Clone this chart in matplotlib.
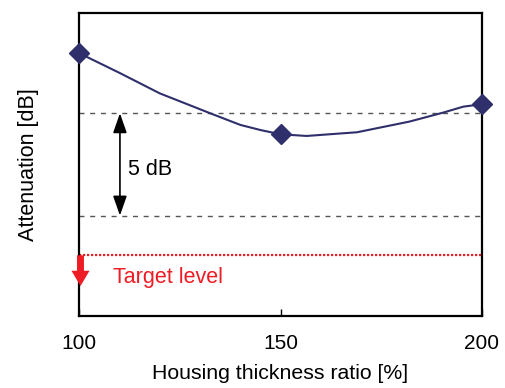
import matplotlib.pyplot as plt

plt.rcParams['font.family'] = ['Liberation Sans', 'DejaVu Sans']

# measured ratios and attenuation (dB above the plot floor)
ratio_marks = [100, 150, 200]
atten_marks = [12.82, 8.86, 10.33]

# smoothed curve through the measurements
ratio_curve = [100, 110, 120, 132.5, 140, 145, 150, 156.5, 169, 182, 190.4, 195.4, 200]
atten_curve = [12.82, 11.86, 10.86, 9.89, 9.32, 9.07, 8.86, 8.78, 8.96, 9.48, 9.92, 10.21, 10.33]

ref_upper = 9.89
ref_lower = 4.89
target = 2.95
target_arrow_end = 1.45

navy = '#2f2f6b'
red = '#ee1c24'

fig = plt.figure(figsize=(5.05, 3.88), dpi=100)
ax = fig.add_axes([0.157, 0.1863, 0.797, 0.7794])

ax.plot(ratio_curve, atten_curve, color=navy, lw=1.5, zorder=3)
ax.plot(ratio_marks, atten_marks, 'D', color=navy, ms=10, zorder=4, clip_on=False)

ax.axhline(ref_upper, color='#555555', lw=1, dashes=(3.6, 4.1))
ax.axhline(ref_lower, color='#555555', lw=1, dashes=(3.6, 4.1))
ax.axhline(target, color=red, lw=1.6, linestyle=(0, (1, 0.8)))

# 5 dB span between the two reference lines
ax.annotate('', xy=(110.1, ref_lower), xytext=(110.1, ref_upper),
            arrowprops=dict(arrowstyle='<|-|>,head_width=0.35,head_length=1.0',
                            color='black', lw=1.2, shrinkA=0, shrinkB=0,
                            mutation_scale=12))
ax.text(112.1, 7.12, '5 dB', fontsize=15.5, va='center', ha='left')

# target level marker
ax.annotate('', xy=(100.3, target_arrow_end), xytext=(100.3, target),
            arrowprops=dict(arrowstyle='simple,head_length=1.1,head_width=1.3,tail_width=0.5',
                            color=red, lw=0, shrinkA=0, shrinkB=0,
                            mutation_scale=10),
            annotation_clip=False, zorder=5)
ax.text(108.3, 1.88, 'Target level', fontsize=15.5, color=red, va='center', ha='left')

ax.set_xlim(100, 200)
ax.set_ylim(0, 14.77)
ax.set_xticks([100, 150, 200])
ax.set_yticks([])
ax.tick_params(axis='x', direction='in', length=5, width=1, pad=13, labelsize=15)
for sp in ax.spines.values():
    sp.set_linewidth(1.6)

ax.set_xlabel('Housing thickness ratio [%]', fontsize=15.3, labelpad=8)
ax.set_ylabel('Attenuation [dB]', fontsize=15.5, labelpad=29)

plt.savefig('out.png', dpi=100)
